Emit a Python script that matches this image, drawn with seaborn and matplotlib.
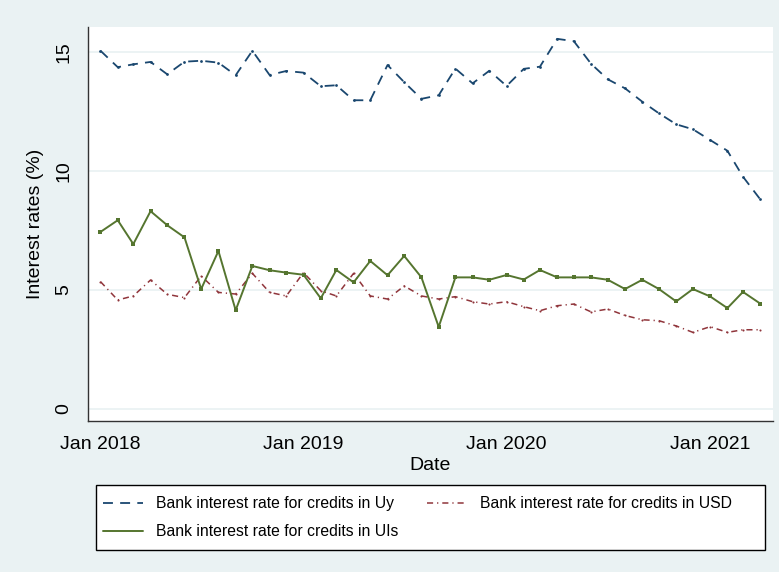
import numpy as np
import pandas as pd
import matplotlib
matplotlib.use("Agg")
import matplotlib.pyplot as plt
from matplotlib.patches import Rectangle
import seaborn as sns

# Monthly bank lending rates, January 2018 - April 2021
months = pd.date_range("2018-01-01", periods=40, freq="MS")

rate_uy = [15.05, 14.36, 14.48, 14.58, 14.06, 14.59, 14.63, 14.55, 14.02, 15.05,
           14.03, 14.20, 14.13, 13.56, 13.60, 12.97, 12.97, 14.45, 13.73, 13.03,
           13.18, 14.30, 13.68, 14.21, 13.57, 14.29, 14.38, 15.55, 15.45, 14.50,
           13.85, 13.47, 12.91, 12.42, 11.96, 11.75, 11.30, 10.85, 9.76, 8.81]

rate_usd = [5.35, 4.58, 4.75, 5.42, 4.82, 4.68, 5.59, 4.90, 4.83, 5.70,
            4.90, 4.75, 5.73, 4.97, 4.75, 5.70, 4.75, 4.62, 5.17, 4.75,
            4.62, 4.72, 4.51, 4.41, 4.51, 4.30, 4.13, 4.34, 4.41, 4.08,
            4.20, 3.93, 3.75, 3.71, 3.49, 3.22, 3.46, 3.22, 3.33, 3.33]

rate_uis = [7.44, 7.93, 6.93, 8.31, 7.72, 7.21, 5.04, 6.64, 4.15, 6.01,
            5.83, 5.73, 5.64, 4.65, 5.84, 5.32, 6.22, 5.62, 6.43, 5.53,
            3.45, 5.53, 5.53, 5.43, 5.63, 5.44, 5.84, 5.53, 5.53, 5.53,
            5.43, 5.04, 5.43, 5.04, 4.52, 5.04, 4.73, 4.24, 4.92, 4.43]

label_uy = "Bank interest rate for credits in Uy"
label_usd = "Bank interest rate for credits in USD"
label_uis = "Bank interest rate for credits in UIs"

x_ticks = pd.to_datetime(["2018-01-01", "2019-01-01", "2020-01-01", "2021-01-01"])
x_tick_labels = ["Jan 2018", "Jan 2019", "Jan 2020", "Jan 2021"]
y_ticks = [0, 5, 10, 15]

df = pd.DataFrame({"date": months, "uy": rate_uy, "usd": rate_usd, "uis": rate_uis})

sns.set_style("white")
plt.rcParams["font.family"] = ["Liberation Sans", "DejaVu Sans"]

bg = "#EAF2F3"
navy = "#1A476F"
maroon = "#90353B"
green = "#55752F"
W, H = 779, 572

fig = plt.figure(figsize=(W / 100, H / 100), dpi=100, facecolor=bg)
ax = fig.add_axes([87.7 / W, 1 - 420.7 / H, (773 - 87.7) / W, (420.7 - 26.7) / H])
ax.set_facecolor("white")

for y in y_ticks:
    ax.axhline(y, color=bg, lw=1.3, zorder=0)

sns.lineplot(data=df, x="date", y="uy", ax=ax, color=navy, lw=1.3,
             marker="o", markersize=2, markeredgewidth=0, label=label_uy)
ax.lines[-1].set_dashes((5.5, 4.0))
sns.lineplot(data=df, x="date", y="usd", ax=ax, color=maroon, lw=1.1,
             marker="o", markersize=1.5, markeredgewidth=0, label=label_usd)
ax.lines[-1].set_dashes((4.0, 2.6, 0.8, 2.6))
sns.lineplot(data=df, x="date", y="uis", ax=ax, color=green, lw=1.4,
             marker="s", markersize=2.2, markeredgewidth=0, label=label_uis)

ax.set_xlim(pd.Timestamp("2017-12-09"), pd.Timestamp("2021-04-24"))
ax.set_ylim(-0.49, 16.06)

ax.set_xticks(x_ticks)
ax.set_xticklabels(x_tick_labels)
ax.set_yticks(y_ticks)
ax.set_yticklabels([str(v) for v in y_ticks])
ax.tick_params(axis="both", direction="out", length=7, width=1, color="#333333",
               labelsize=14, pad=4, labelcolor="black")
ax.tick_params(axis="y", labelrotation=90)
for lbl in ax.get_yticklabels():
    lbl.set_va("center")

ax.set_xlabel("Date", fontsize=14, labelpad=3, color="black")
ax.set_ylabel("Interest rates (%)", fontsize=14, labelpad=8, color="black")

for side in ["top", "right"]:
    ax.spines[side].set_visible(False)
for side in ["left", "bottom"]:
    ax.spines[side].set_color("#333333")
    ax.spines[side].set_linewidth(1)

# legend entries laid out in two columns inside a drawn box
handles, labels = ax.get_legend_handles_labels()
ax.get_legend().remove()
order = [0, 2, 1]
leg = fig.legend([handles[i] for i in order], [labels[i] for i in order],
                 ncol=2, loc="upper left",
                 bbox_to_anchor=(103 / W, 1 - 496 / H),
                 fontsize=11.3, frameon=False, handlelength=2.55,
                 handletextpad=0.85, borderpad=0, borderaxespad=0,
                 labelspacing=0.85, columnspacing=1.8)
for h in leg.legend_handles:
    h.set_marker("")
for t in leg.get_texts():
    t.set_color("black")

fig.patches.append(Rectangle((96 / W, 1 - 550 / H), (765 - 96) / W, 65 / H,
                             transform=fig.transFigure, facecolor="white",
                             edgecolor="black", lw=1, zorder=0))

fig.savefig("out.png", dpi=100, facecolor=bg)
